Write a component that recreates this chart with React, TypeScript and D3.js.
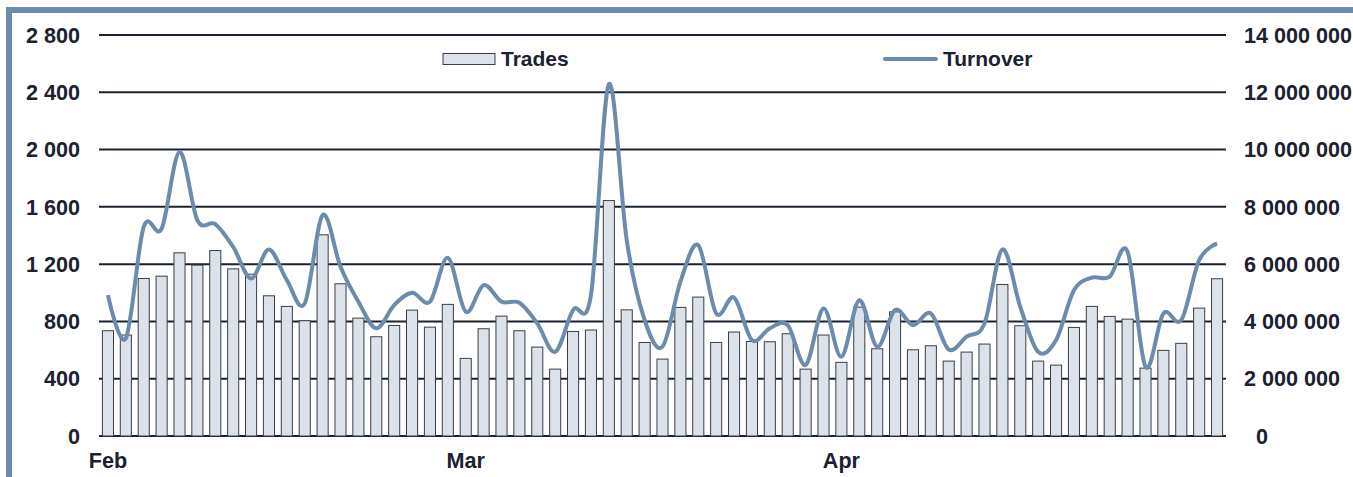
import * as d3 from "d3";

// daily trades (left axis)
const trades = [
  735, 705, 1100, 1116, 1279, 1193, 1295, 1167, 1130, 979, 905, 805, 1405, 1063, 823, 693, 772, 879, 760, 919,
  542, 749, 837, 735, 621, 467, 730, 740, 1644, 881, 653, 537, 898, 970, 653, 726, 660, 658, 714, 467, 705,
  514, 900, 609, 867, 602, 630, 523, 586, 642, 1058, 770, 523, 495, 758, 905, 835, 816, 474, 598, 647, 893, 1098,
];

// daily turnover (right axis), millions
const turnover = [
  4.92, 3.41, 7.3, 7.24, 9.92, 7.53, 7.4, 6.6, 5.5, 6.51, 5.44, 4.63, 7.71, 5.91, 4.69, 3.76, 4.57, 5.0, 4.69, 6.22,
  4.34, 5.27, 4.69, 4.65, 3.93, 2.94, 4.4, 4.92, 12.28, 6.84, 4.05, 3.12, 5.38, 6.66, 4.28, 4.83, 3.35, 3.76, 3.87, 2.48, 4.45,
  2.77, 4.74, 3.12, 4.4, 3.87, 4.28, 3.02, 3.47, 3.93, 6.51, 4.51, 2.94, 3.35, 5.09, 5.53, 5.56, 6.43, 2.42, 4.28, 4.05, 6.14, 6.72,
];

// month labels and the bar they sit under
const months = ["Feb", "Mar", "Apr"];
const monthStart = [0, 20, 41];

const leftTicks = [0, 400, 800, 1200, 1600, 2000, 2400, 2800];
const rightTicks = [0, 2, 4, 6, 8, 10, 12, 14];

const W = 1353;
const H = 477;
const frameColor = "#6d8bad";
const textColor = "#1b2130";
const font = "'Liberation Sans', Arial, sans-serif";

const fmt = (v: number) => d3.format(",")(v).replace(/,/g, " ");

export default function App() {
  const x = d3
    .scaleBand<number>()
    .domain(d3.range(trades.length))
    .range([99, 1226])
    .paddingInner(0.38)
    .paddingOuter(0.19);
  const yL = d3.scaleLinear().domain([0, 2800]).range([436, 35]);
  const yR = d3.scaleLinear().domain([0, 14]).range([436, 35]);

  const line = d3
    .line<number>()
    .x((d, i) => (x(i) as number) + x.bandwidth() / 2)
    .y((d) => yR(d))
    .curve(d3.curveCardinal.tension(0));

  return (
    <div style={{ position: "absolute", left: 0, top: 0 }}>
      <svg width={W} height={H} style={{ display: "block", background: "#fff" }}>
        <rect x={6} y={7} width={6} height={H - 7} fill={frameColor} />
        <rect x={6} y={7} width={W - 6} height={6} fill={frameColor} />

        {leftTicks.map((t) => (
          <line key={t} x1={99} x2={1226} y1={yL(t)} y2={yL(t)} stroke="#1c2330" strokeWidth={2} />
        ))}

        {trades.map((v, i) => (
          <rect
            key={i}
            x={x(i)}
            y={yL(v)}
            width={x.bandwidth()}
            height={yL(0) - yL(v)}
            fill="#dbe2e9"
            stroke="#3a3f47"
            strokeWidth={1}
          />
        ))}

        <path d={line(turnover) ?? ""} fill="none" stroke={frameColor} strokeWidth={4} strokeLinejoin="round" />

        <g fontFamily={font} fontWeight="bold" fontSize={21.6} fill={textColor}>
          {leftTicks.map((t) => (
            <text key={t} x={80} y={yL(t)} dy="0.36em" textAnchor="end">
              {fmt(t)}
            </text>
          ))}
          {rightTicks.map((t) => (
            <text key={t} x={t === 0 ? 1256 : 1244} y={yR(t)} dy="0.36em" textAnchor="start">
              {fmt(t * 1000000)}
            </text>
          ))}
          {months.map((m, k) => (
            <text key={m} x={(x(monthStart[k]) as number) + x.bandwidth() / 2} y={468} textAnchor="middle">
              {m}
            </text>
          ))}
        </g>

        <g fontFamily={font} fontWeight="bold" fontSize={21} fill={textColor}>
          <rect x={443} y={53.5} width={52} height={11} fill="#dbe2e9" stroke="#3a3f47" strokeWidth={1} />
          <text x={501} y={66}>Trades</text>
          <line x1={885} x2={936} y1={59} y2={59} stroke={frameColor} strokeWidth={4} strokeLinecap="round" />
          <text x={943} y={66}>Turnover</text>
        </g>
      </svg>
    </div>
  );
}
